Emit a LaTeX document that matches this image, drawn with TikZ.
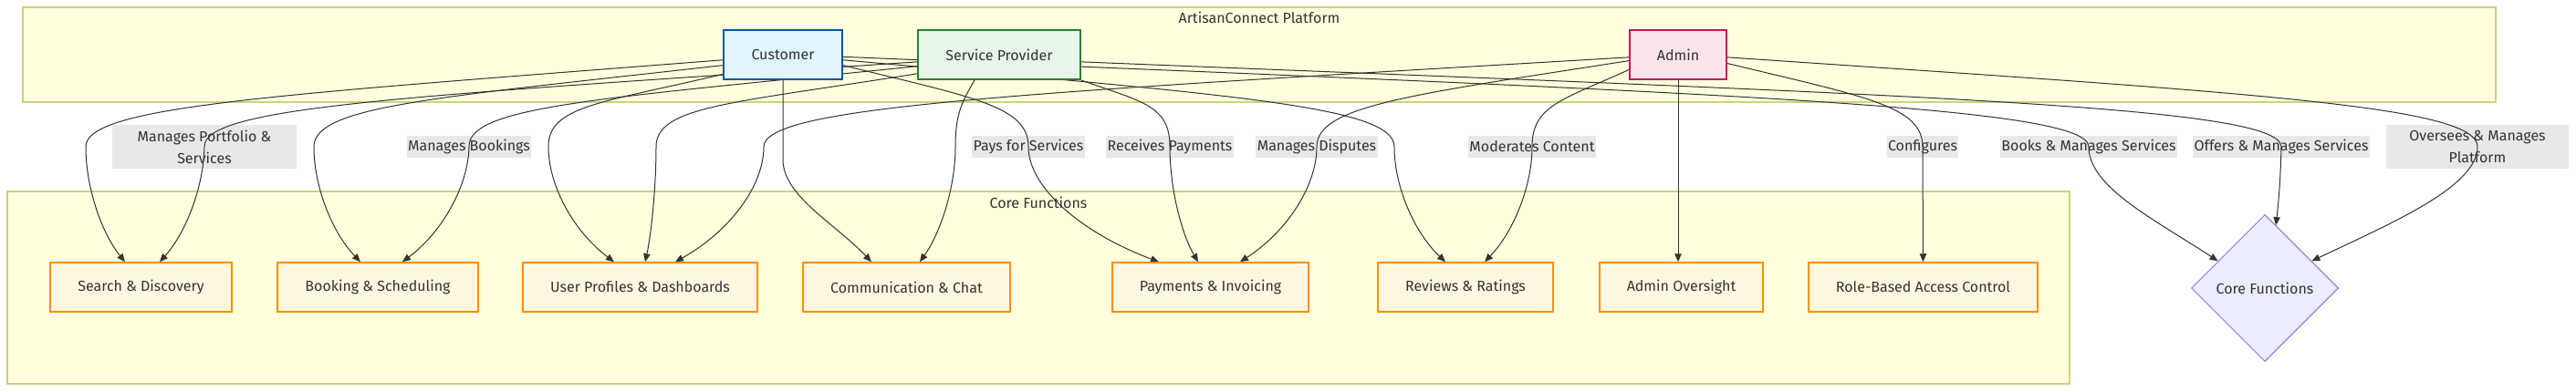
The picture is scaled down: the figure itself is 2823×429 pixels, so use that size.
\documentclass[tikz,border=0pt]{standalone}
\usepackage{fontspec}
\setmainfont{Fira Sans}
\usetikzlibrary{arrows.meta,shapes.geometric}

\definecolor{ink}{HTML}{333333}
\definecolor{clfill}{HTML}{FFFFDE}
\definecolor{cldraw}{HTML}{D0D080}
\definecolor{custfill}{HTML}{E1F5FE}
\definecolor{custdraw}{HTML}{01579B}
\definecolor{provfill}{HTML}{E8F5E9}
\definecolor{provdraw}{HTML}{2E7D32}
\definecolor{admfill}{HTML}{FCE4EC}
\definecolor{admdraw}{HTML}{C2185B}
\definecolor{funcfill}{HTML}{FFF8E1}
\definecolor{funcdraw}{HTML}{FF8F00}
\definecolor{corefill}{HTML}{ECECFF}
\definecolor{coredraw}{HTML}{9370DB}
\definecolor{lblfill}{HTML}{E8E8E8}

\pgfdeclarelayer{back}
\pgfdeclarelayer{labels}
\pgfdeclarelayer{edges}
\pgfsetlayers{back,labels,edges,main}

\begin{document}
\begin{tikzpicture}[x=0.2mm,y=-0.2mm,
    every node/.style={font=\fontsize{9.1}{13.7}\selectfont,text=ink},
    actor/.style={draw,line width=0.4mm,minimum height=10.8mm},
    func/.style={draw=funcdraw,fill=funcfill,line width=0.3mm,minimum height=10.8mm},
    lbl/.style={fill=lblfill,inner xsep=0.3mm,inner ysep=0pt,minimum height=4.8mm,align=center},
    cluster/.style={draw=cldraw,fill=clfill,line width=0.3mm},
    flow/.style={draw=ink,line width=0.2mm,-{Triangle[length=1.8mm,width=1.5mm]}}]
    \useasboundingbox (0,0) rectangle (2823,429);

    % subgraphs
    \begin{pgfonlayer}{back}
        \draw[cluster] (25,8) rectangle (2735,112);
        \draw[cluster] (8,210) rectangle (2268,421);
        \node (platform) at (1380,19) {ArtisanConnect Platform};
        \node (functions) at (1138,222) {Core Functions};
    \end{pgfonlayer}

    % users
    \node[actor,draw=custdraw,fill=custfill,minimum width=26mm] (customer) at (858,60) {Customer};
    \node[actor,draw=provdraw,fill=provfill,minimum width=35.6mm] (provider) at (1095,60) {Service Provider};
    \node[actor,draw=admdraw,fill=admfill,minimum width=21.2mm] (admin) at (1839,60) {Admin};

    % core functions
    \node[func,minimum width=39.8mm] (search) at (154.5,315) {Search \& Discovery};
    \node[func,minimum width=44mm] (booking) at (414,315) {Booking \& Scheduling};
    \node[func,minimum width=51.4mm] (profiles) at (701.5,315) {User Profiles \& Dashboards};
    \node[func,minimum width=45.4mm] (comm) at (993.5,315) {Communication \& Chat};
    \node[func,minimum width=43mm] (payments) at (1326.5,315) {Payments \& Invoicing};
    \node[func,minimum width=38.4mm] (reviews) at (1606,315) {Reviews \& Ratings};
    \node[func,minimum width=35.8mm] (oversight) at (1842.5,315) {Admin Oversight};
    \node[func,minimum width=50.2mm] (rbac) at (2107.5,315) {Role-Based Access Control};
    \node[diamond,aspect=1,draw=coredraw,fill=corefill,line width=0.2mm,minimum width=32.2mm,minimum height=32.2mm,inner sep=0pt] (core) at (2482,316) {Core Functions};

    % edge labels
    \begin{pgfonlayer}{labels}
        \node[lbl,minimum width=40.2mm,minimum height=9.6mm] (portfolio) at (224,161) {Manages Portfolio \&\\Services};
        \node[lbl] (bookings) at (514,161) {Manages Bookings};
        \node[lbl] (pays) at (1127,161) {Pays for Services};
        \node[lbl] (receives) at (1282,161) {Receives Payments};
        \node[lbl] (disputes) at (1443,161) {Manages Disputes};
        \node[lbl] (moderates) at (1679,161) {Moderates Content};
        \node[lbl] (configures) at (2107,161) {Configures};
        \node[lbl] (books) at (2289,161) {Books \& Manages Services};
        \node[lbl] (offers) at (2500,161) {Offers \& Manages Services};
        \node[lbl,minimum width=40mm,minimum height=9.6mm] (oversees) at (2715,161) {Oversees \& Manages\\Platform};
    \end{pgfonlayer}

    \begin{pgfonlayer}{edges}
        % customer
        \draw[flow] (customer.185) .. controls (304,104) and (94,116) .. (94,161) .. controls (94,205) and (111,255) .. ([xshift=-3.5mm]search.north);
        \draw[flow] (customer.190) .. controls (479,107) and (344,116) .. (344,161) .. controls (344,205) and (364,255) .. ([xshift=-3.8mm]booking.north);
        \draw[flow] (customer.198) .. controls (659,113) and (601,116) .. (601,161) .. controls (601,205) and (630,255) .. ([xshift=-5.7mm]profiles.north);
        \draw[flow] (customer.south) -- (858,175) .. controls (858,215) and (915,245) .. ([xshift=-7.7mm]comm.north);
        \draw[flow] (customer.-10) .. controls (1066,107) and (1127,116) .. (pays.center) .. controls (1127,205) and (1184,255) .. ([xshift=-11.3mm]payments.north);
        \draw[flow] (customer.-5) .. controls (1346,104) and (1528,116) .. (1528,161) .. controls (1528,205) and (1550,255) .. ([xshift=-4.4mm]reviews.north);
        \draw[flow] (customer.-2) .. controls (1879,102) and (2289,116) .. (books.center) .. controls (2289,205) and (2360,240) .. (core.150);
        % service provider
        \draw[flow] (provider.185) .. controls (458,105) and (223,116) .. (portfolio.center) .. controls (223,205) and (204,255) .. ([xshift=4.1mm]search.north);
        \draw[flow] (provider.188) .. controls (661,108) and (513,116) .. (bookings.center) .. controls (513,205) and (484,255) .. ([xshift=5.4mm]booking.north);
        \draw[flow] (provider.193) .. controls (805,113) and (719,116) .. (719,161) .. controls (719,205) and (714,255) .. ([xshift=1.1mm]profiles.north);
        \draw[flow] (provider.-134) .. controls (1054,112) and (1047,125) .. (1047,161) .. controls (1047,205) and (1031,255) .. ([xshift=2.9mm]comm.north);
        \draw[flow] (provider.south east) .. controls (1253,112) and (1282,116) .. (receives.center) .. controls (1282,205) and (1294,255) .. ([xshift=-2.7mm]payments.north);
        \draw[flow] (provider.-5) .. controls (2105,105) and (2499,116) .. (offers.center) .. controls (2499,205) and (2496,230) .. (core.80);
        % admin
        \draw[flow] (admin.183) .. controls (1122,102) and (837,116) .. (837,161) .. controls (837,205) and (798,255) .. ([xshift=7.7mm]profiles.north);
        \draw[flow] (admin.187) .. controls (1546,104) and (1443,116) .. (disputes.center) .. controls (1443,205) and (1409,255) .. ([xshift=6.5mm]payments.north);
        \draw[flow] (admin.197) .. controls (1711,110) and (1679,116) .. (moderates.center) .. controls (1679,205) and (1658,255) .. ([xshift=4.2mm]reviews.north);
        \draw[flow] (admin.south) -- (admin.south |- oversight.north);
        \draw[flow] (admin.-10) .. controls (2043,106) and (2107,116) .. (configures.center) -- (rbac.north);
        \draw[flow] (admin.-3) .. controls (2468,102) and (2715,116) .. (oversees.center) .. controls (2715,205) and (2620,245) .. (core.30);
    \end{pgfonlayer}
\end{tikzpicture}
\end{document}
